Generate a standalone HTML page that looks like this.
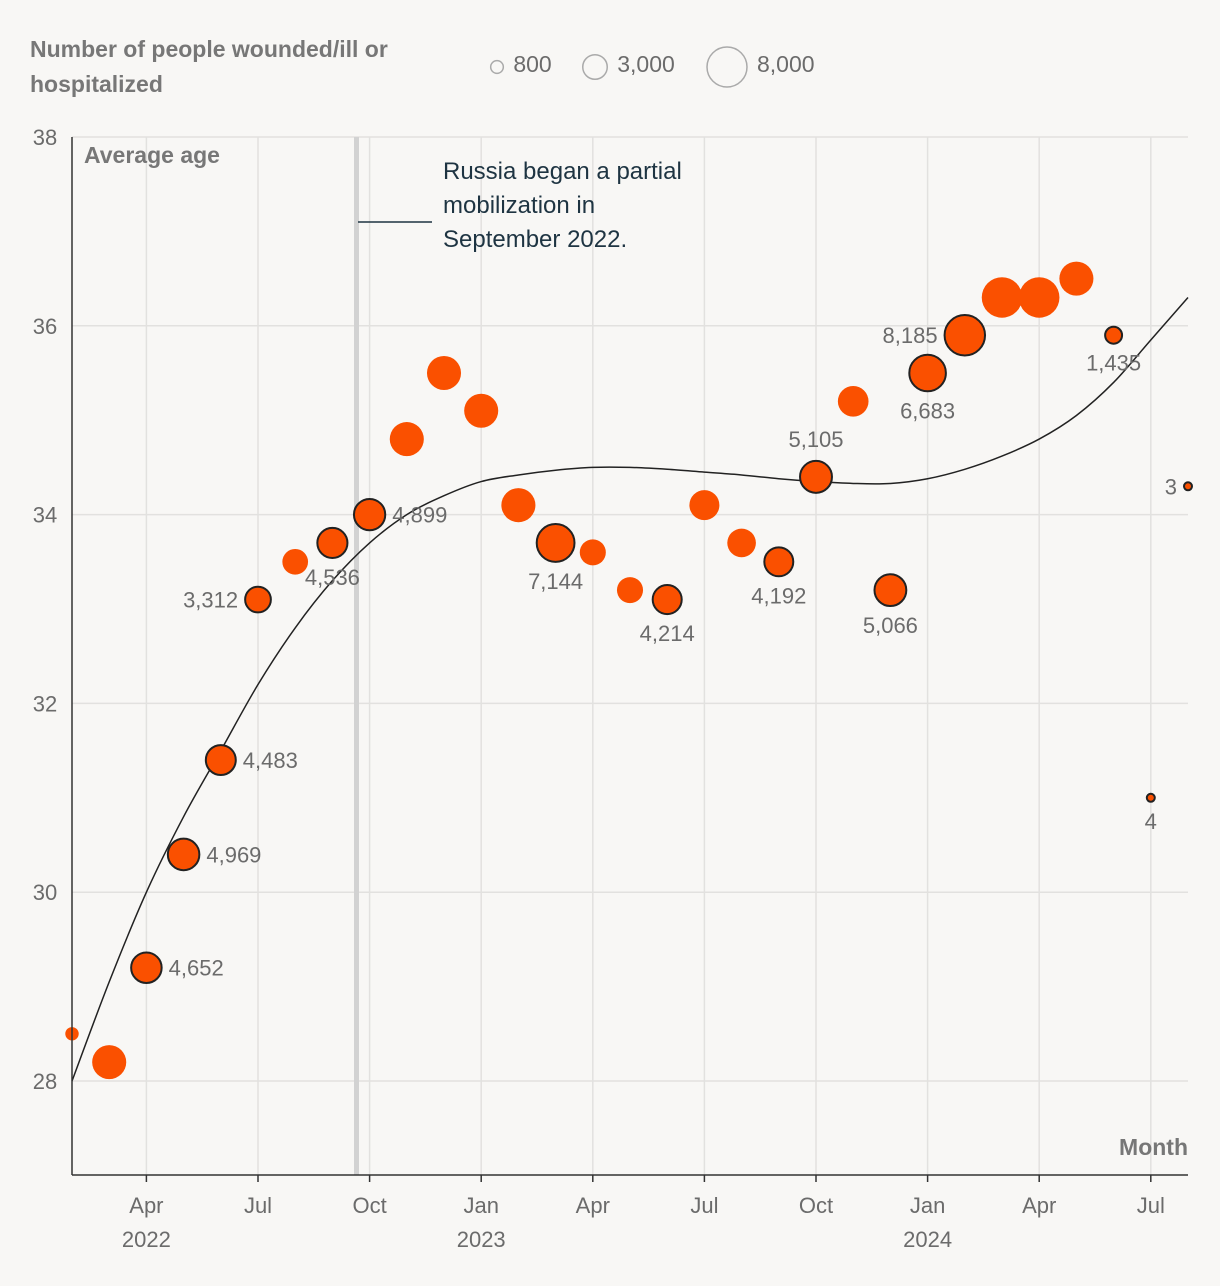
<!DOCTYPE html>
<html><head><meta charset="utf-8"><style>
html,body{margin:0;padding:0;background:#f8f7f5;}
svg{display:block;font-family:"Liberation Sans",sans-serif;}
</style></head><body>
<svg id="chart" width="1220" height="1286" viewBox="0 0 1220 1286">
<rect x="0" y="0" width="1220" height="1286" fill="#f8f7f5"/>
<text x="30" y="57" font-size="23" font-weight="bold" fill="#777">Number of people wounded/ill or</text>
<text x="30" y="92" font-size="23" font-weight="bold" fill="#777">hospitalized</text>
<g id="legend"></g>
<g id="grid"></g>
<rect x="354" y="137" width="5" height="1038" fill="#d2d2d2"/>
<line x1="358" y1="222" x2="432" y2="222" stroke="#1e3442" stroke-width="1.5"/>
<g font-size="24" fill="#1e3442">
<text x="443" y="179">Russia began a partial</text>
<text x="443" y="213">mobilization in</text>
<text x="443" y="247">September 2022.</text>
</g>
<path id="trend" fill="none" stroke="#222" stroke-width="1.5"/>
<g id="points"></g>
<g id="labels" font-size="22" fill="#6b6b6b"></g>
<line x1="72" y1="137" x2="72" y2="1175" stroke="#333" stroke-width="1.5"/>
<line x1="72" y1="1175" x2="1188" y2="1175" stroke="#333" stroke-width="1.5"/>
<text x="84" y="163" font-size="23" font-weight="bold" fill="#777">Average age</text>
<text x="1188" y="1155" font-size="23" font-weight="bold" fill="#777" text-anchor="end">Month</text>
<g id="ticks" font-size="22" fill="#6b6b6b"></g>
</svg>
<script>
const months = [1,2,3,4,5,6,7,8,9,10,11,12,13,14,15,16,17,18,19,20,21,22,23,24,25,26,27,28,29,30,31];
const ages = [28.5,28.2,29.2,30.4,31.4,33.1,33.5,33.7,34.0,34.8,35.5,35.1,34.1,33.7,33.6,33.2,33.1,34.1,33.7,33.5,34.4,35.2,33.2,35.5,35.9,36.3,36.3,36.5,35.9,31.0,34.3];
const counts = [900,5800,4652,4969,4483,3312,3300,4536,4899,5800,5800,5800,5800,7144,3400,3400,4214,4500,4100,4192,5105,4700,5066,6683,8185,8200,8200,5800,1435,4,3];
const labels = ["","","4,652","4,969","4,483","3,312","","4,536","4,899","","","","","7,144","","","4,214","","","4,192","5,105","","5,066","6,683","8,185","","","","1,435","4","3"];
const labelPos = ["","","r","r","r","l","","b","r","","","","","b","","","b","","","b","t","","b","b","l","","","","b","b","l"];
const outlined = [0,0,1,1,1,1,0,1,1,0,0,0,0,1,0,0,1,0,0,1,1,0,1,1,1,0,0,0,1,1,1];
const trendMonths = [1,2,3,4,5,6,7,8,9,10,11,12,13,14,15,16,17,18,19,20,21,22,23,24,25,26,27,28,29,30,31];
const trendAges = [28.0,29.05,30.0,30.8,31.5,32.2,32.8,33.3,33.7,34.0,34.2,34.35,34.42,34.47,34.5,34.5,34.48,34.45,34.42,34.38,34.35,34.33,34.33,34.38,34.48,34.62,34.8,35.05,35.4,35.85,36.3];
const yTicks = [28,30,32,34,36,38];
const xTickMonths = [3,6,9,12,15,18,21,24,27,30];
const xTickLabels = ["Apr","Jul","Oct","Jan","Apr","Jul","Oct","Jan","Apr","Jul"];
const yearMonths = [3,12,24];
const yearLabels = ["2022","2023","2024"];
const legendValues = [800,3000,8000];
const legendLabels = ["800","3,000","8,000"];

const NS="http://www.w3.org/2000/svg";
const x = m => 72 + (m-1)*37.2;
const y = a => 1081 - (a-28)*94.4;
const r = v => Math.max(4, 20*Math.sqrt(v/8000));
function mk(tag, attrs, parent){const e=document.createElementNS(NS,tag);for(const k in attrs)e.setAttribute(k,attrs[k]);parent.appendChild(e);return e;}

const grid=document.getElementById('grid');
yTicks.forEach(t=>{
  const l=mk('line',{x1:72,x2:1188,y1:y(t),y2:y(t),stroke:'#e2e1df','stroke-width':1.5},grid);
  
  
});
xTickMonths.forEach(m=>{
  const l=mk('line',{x1:x(m),x2:x(m),y1:137,y2:1175,stroke:'#e2e1df','stroke-width':1.5},grid);
  
  
});
const ticks=document.getElementById('ticks');
yTicks.forEach(t=>{
  const e=mk('text',{x:45,y:y(t)+8,'text-anchor':'middle'},ticks);e.textContent=t;
  
  
});
xTickMonths.forEach((m,i)=>{
  const l=mk('line',{x1:x(m),x2:x(m),y1:1175,y2:1182,stroke:'#333','stroke-width':1.5},ticks);
  
  
  const e=mk('text',{x:x(m),y:1213,'text-anchor':'middle'},ticks);e.textContent=xTickLabels[i];
  
  
});
yearMonths.forEach((m,i)=>{
  const e=mk('text',{x:x(m),y:1247,'text-anchor':'middle'},ticks);e.textContent=yearLabels[i];
  
  
});
const lg=document.getElementById('legend');
const lxs=[497,595,727];
legendValues.forEach((v,i)=>{
  const rr=20*Math.sqrt(v/8000);
  const c=mk('circle',{cx:lxs[i],cy:67,r:rr,fill:'none',stroke:'#aaa','stroke-width':1.5},lg);
  
  
  const t=mk('text',{x:lxs[i]+rr+10,y:72,'font-size':23,fill:'#6b6b6b'},lg);t.textContent=legendLabels[i];
  
  
});
const pts=trendMonths.map((m,i)=>[x(m),y(trendAges[i])]);
let d='M'+pts[0][0]+','+pts[0][1];
for(let i=0;i<pts.length-1;i++){
  const p0=pts[Math.max(0,i-1)],p1=pts[i],p2=pts[i+1],p3=pts[Math.min(pts.length-1,i+2)];
  const c1=[p1[0]+(p2[0]-p0[0])/6,p1[1]+(p2[1]-p0[1])/6];
  const c2=[p2[0]-(p3[0]-p1[0])/6,p2[1]-(p3[1]-p1[1])/6];
  d+=` C${c1[0]},${c1[1]} ${c2[0]},${c2[1]} ${p2[0]},${p2[1]}`;
}
document.getElementById('trend').setAttribute('d',d);
const pg=document.getElementById('points'),lb=document.getElementById('labels');
months.forEach((m,i)=>{
  const cx=x(m),cy=y(ages[i]),rr=r(counts[i]);
  const attrs={cx:cx,cy:cy,r:rr,fill:'#fa5000'};
  if(outlined[i]){attrs.stroke='#222';attrs['stroke-width']=2;}
  const c=mk('circle',attrs,pg);
  
  
  if(labels[i]){
    const p=labelPos[i];let tx=cx,ty=cy+8,anc='middle';
    if(p==='r'){tx=cx+rr+7;anc='start';}
    else if(p==='l'){tx=cx-rr-7;anc='end';}
    else if(p==='b'){ty=cy+rr+27;}
    else if(p==='t'){ty=cy-rr-14;}
    const t=mk('text',{x:tx,y:ty,'text-anchor':anc},lb);t.textContent=labels[i];
    
    
  }
});
</script>
</body></html>
